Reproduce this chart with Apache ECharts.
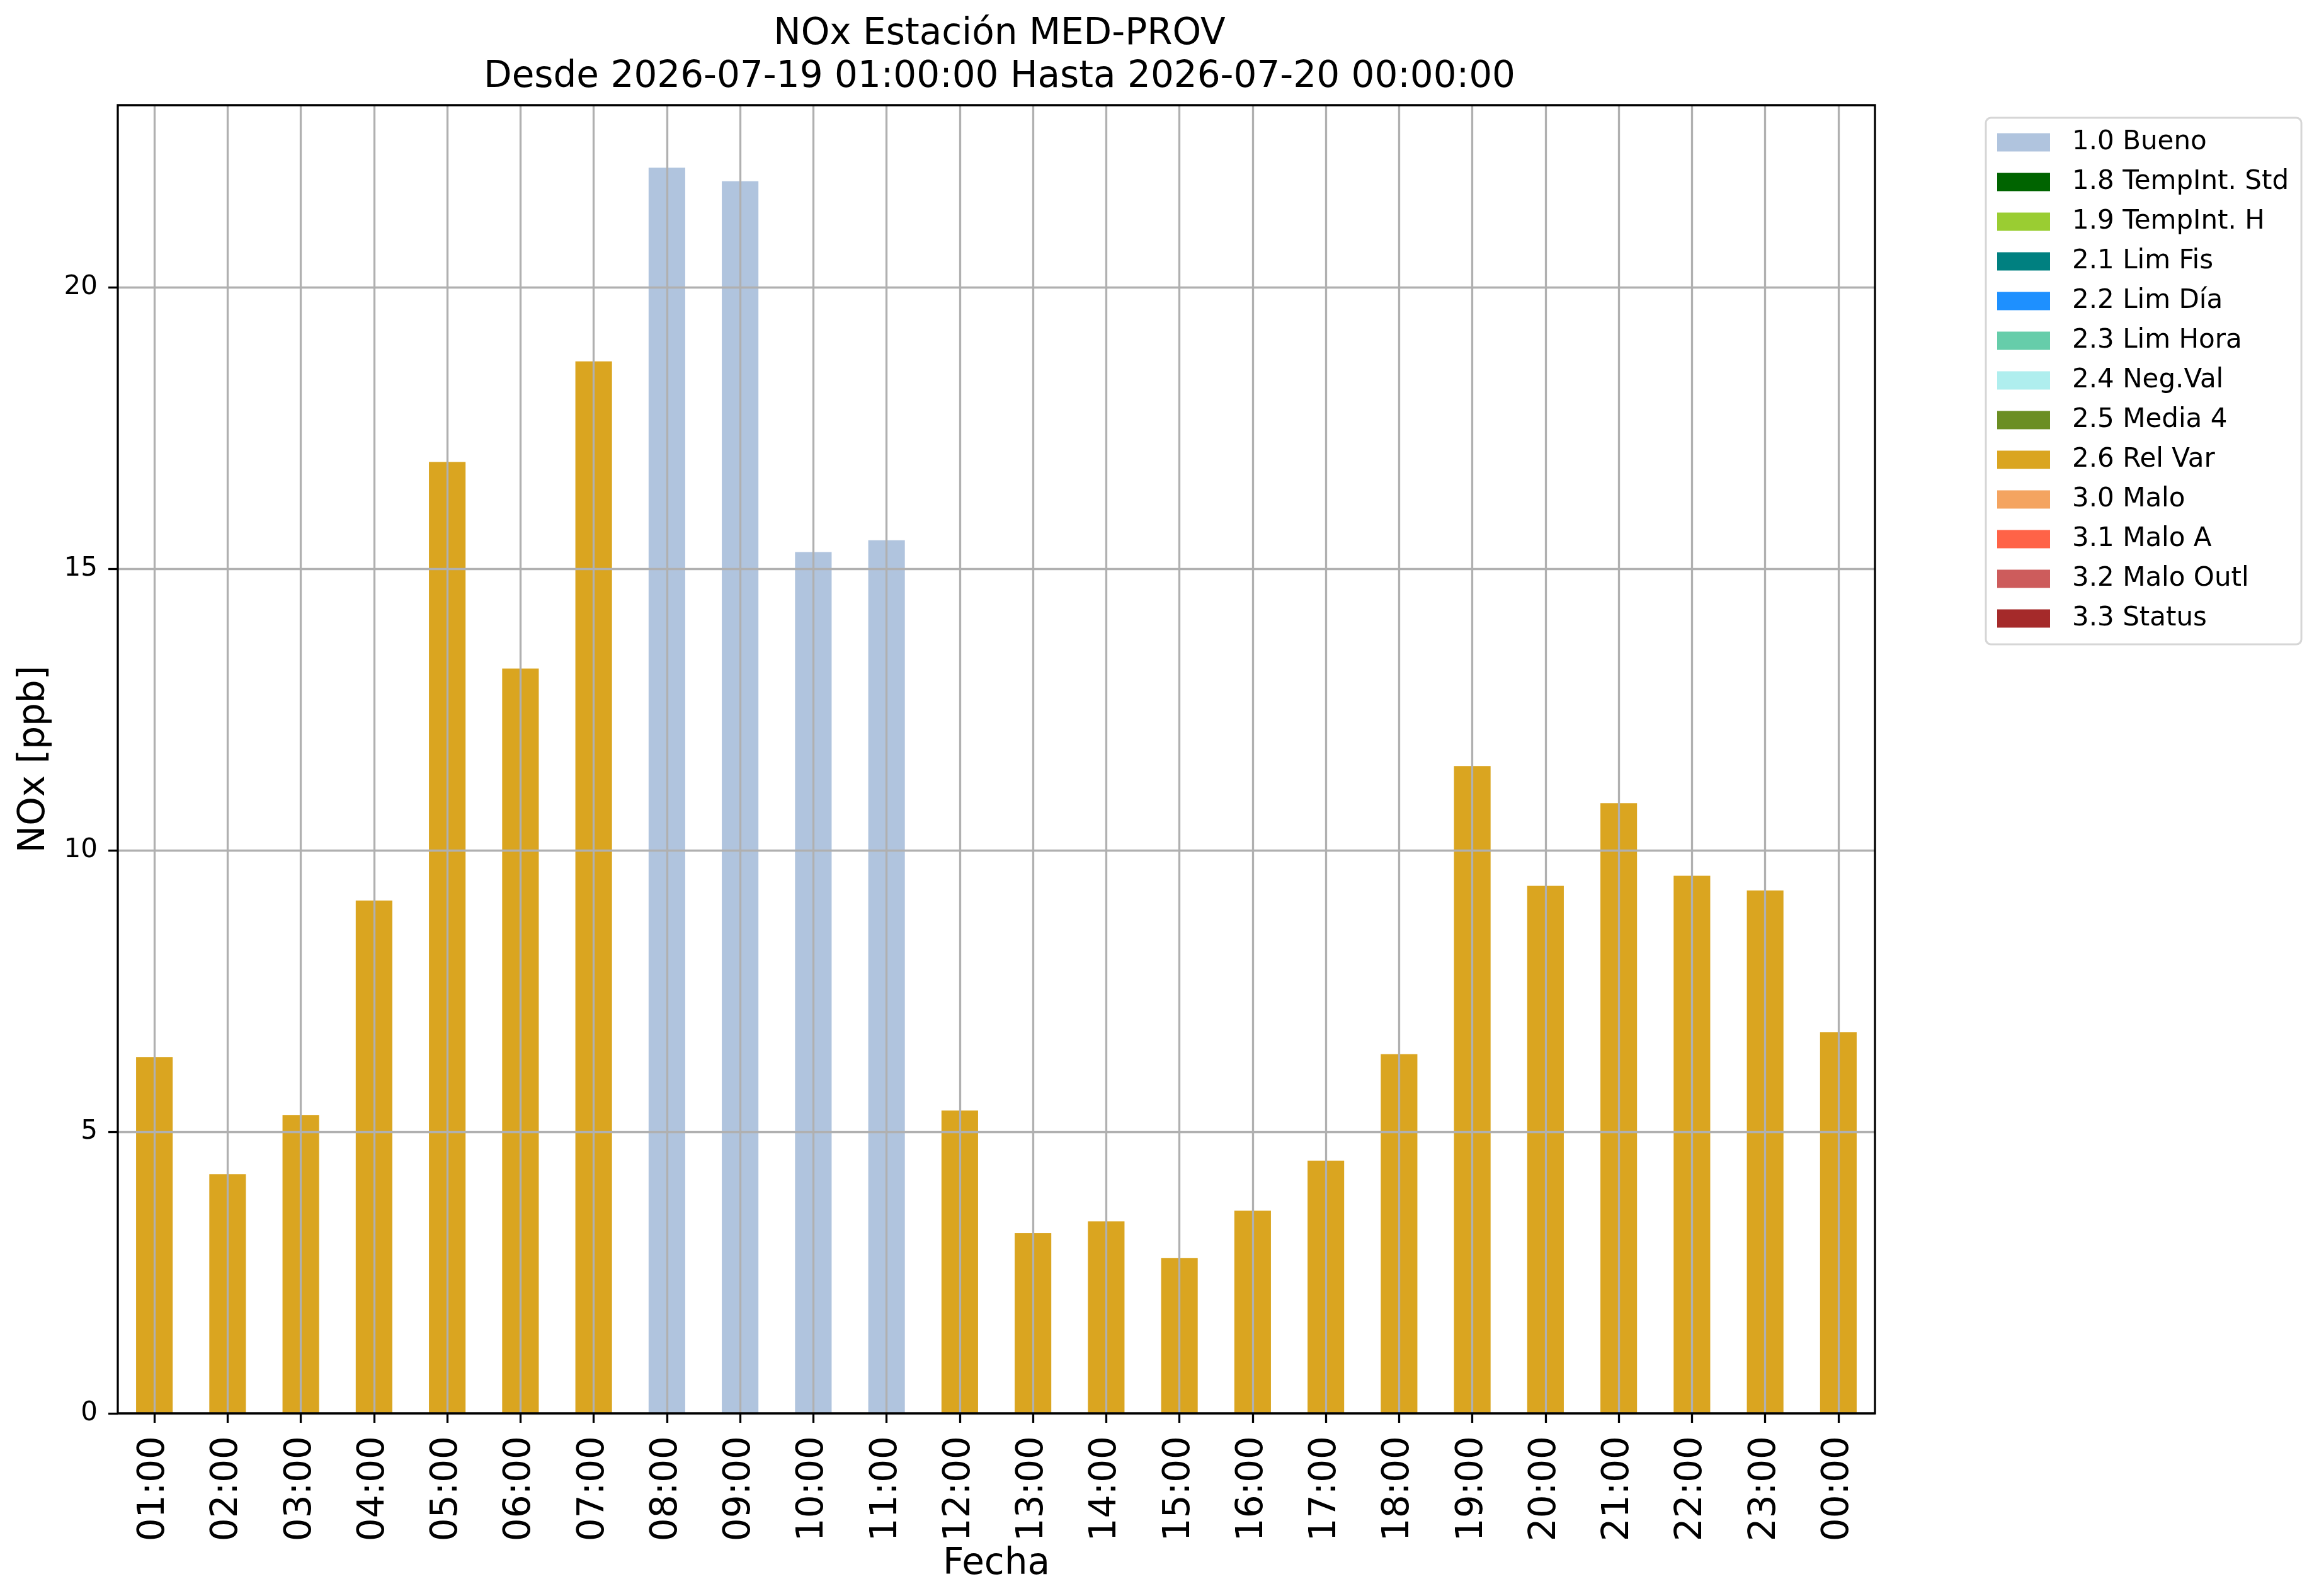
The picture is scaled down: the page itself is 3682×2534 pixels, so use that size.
<!DOCTYPE html>
<html>
<head>
<meta charset="utf-8">
<script src="https://cdn.jsdelivr.net/npm/echarts@6/dist/echarts.min.js"></script>
<style>
  html, body { margin: 0; padding: 0; background: #fff; }
  #chart { width: 3682px; height: 2534px; }
</style>
</head>
<body>
<div id="chart"></div>
<script>
// horas (eje x)
const hours = ['01:00', '02:00', '03:00', '04:00', '05:00', '06:00', '07:00', '08:00',
  '09:00', '10:00', '11:00', '12:00', '13:00', '14:00', '15:00', '16:00',
  '17:00', '18:00', '19:00', '20:00', '21:00', '22:00', '23:00', '00:00']
// NOx [ppb] por hora
const noxValues = [6.33, 4.25, 5.30, 9.11, 16.90, 13.23, 18.69, 22.13,
  21.89, 15.30, 15.51, 5.38, 3.20, 3.41, 2.76, 3.60,
  4.49, 6.38, 11.50, 9.37, 10.84, 9.55, 9.29, 6.77]
// etiqueta de calidad de cada hora
const noxFlags = ['2.6 Rel Var', '2.6 Rel Var', '2.6 Rel Var', '2.6 Rel Var', '2.6 Rel Var', '2.6 Rel Var', '2.6 Rel Var', '1.0 Bueno',
  '1.0 Bueno', '1.0 Bueno', '1.0 Bueno', '2.6 Rel Var', '2.6 Rel Var', '2.6 Rel Var', '2.6 Rel Var', '2.6 Rel Var',
  '2.6 Rel Var', '2.6 Rel Var', '2.6 Rel Var', '2.6 Rel Var', '2.6 Rel Var', '2.6 Rel Var', '2.6 Rel Var', '2.6 Rel Var']
// clases de la leyenda y sus colores
const flagNames = ['1.0 Bueno', '1.8 TempInt. Std', '1.9 TempInt. H', '2.1 Lim Fis', '2.2 Lim Día',
  '2.3 Lim Hora', '2.4 Neg.Val', '2.5 Media 4', '2.6 Rel Var', '3.0 Malo', '3.1 Malo A',
  '3.2 Malo Outl', '3.3 Status']
const flagColors = ['#b0c4de', '#006400', '#9acd32', '#008080', '#1e90ff',
  '#66cdaa', '#afeeee', '#6b8e23', '#daa520', '#f4a460', '#ff6347',
  '#cd5c5c', '#a52a2a']
const yTicks = [0, 5, 10, 15, 20]
const yMax = 23.24

const font = 'DejaVu Sans'
const gridGray = '#b0b0b0'

const myChart = echarts.init(document.getElementById('chart'), null, { renderer: 'canvas' })

// una serie apilada por clase, '-' donde la hora no es de esa clase
const series = flagNames.map(function (name, k) {
  return {
    name: name,
    type: 'bar',
    stack: 'flag',
    barWidth: '50%',
    itemStyle: { color: flagColors[k] },
    emphasis: { disabled: true },
    data: noxValues.map(function (v, i) { return noxFlags[i] === name ? v : '-' })
  }
})

const option = {
  animation: false,
  backgroundColor: '#ffffff',
  title: {
    text: 'NOx Estación MED-PROV\nDesde 2026-07-19 01:00:00 Hasta 2026-07-20 00:00:00',
    left: 1582,
    top: 16,
    textAlign: 'center',
    textStyle: { fontFamily: font, fontSize: 58, fontWeight: 'normal', color: '#000', lineHeight: 68 }
  },
  legend: {
    orient: 'vertical',
    left: 3153,
    top: 187,
    padding: [18, 20, 20, 18],
    itemWidth: 84,
    itemHeight: 29,
    itemGap: 21,
    icon: 'rect',
    backgroundColor: '#ffffff',
    borderColor: '#d6d6d6',
    borderWidth: 3,
    borderRadius: 8,
    selectedMode: false,
    data: flagNames,
    textStyle: { fontFamily: font, fontSize: 42, color: '#000', lineHeight: 29, padding: [0, 0, 0, 30] }
  },
  grid: {
    left: 187,
    right: 705,
    top: 167,
    bottom: 290,
    show: true,
    z: 11,
    backgroundColor: 'transparent',
    borderColor: '#000',
    borderWidth: 3.3
  },
  xAxis: {
    type: 'category',
    data: hours,
    z: 10,
    name: 'Fecha',
    nameLocation: 'middle',
    nameGap: 184,
    nameTextStyle: { fontFamily: font, fontSize: 58, color: '#000' },
    axisLine: { show: false },
    axisTick: { show: true, alignWithLabel: true, length: 15, lineStyle: { color: '#000', width: 3.3 } },
    axisLabel: { rotate: 90, margin: 36, fontFamily: font, fontSize: 58, color: '#000', interval: 0 },
    splitLine: { show: true, alignWithLabel: true, interval: 0, lineStyle: { color: gridGray, width: 3.3 } }
  },
  yAxis: {
    type: 'value',
    min: yTicks[0],
    max: yMax,
    interval: yTicks[1] - yTicks[0],
    z: 10,
    name: 'NOx [ppb]',
    nameLocation: 'middle',
    nameGap: 103,
    nameTextStyle: { fontFamily: font, fontSize: 58, color: '#000' },
    axisLine: { show: false },
    axisTick: { show: true, length: 15, lineStyle: { color: '#000', width: 3.3 } },
    axisLabel: { margin: 32, fontFamily: font, fontSize: 42, color: '#000', showMaxLabel: false },
    splitLine: { show: true, showMaxLine: false, lineStyle: { color: gridGray, width: 3.3 } }
  },
  series: series
}

myChart.setOption(option)
window.addEventListener('resize', function () {
  myChart.resize()
})
</script>
</body>
</html>
